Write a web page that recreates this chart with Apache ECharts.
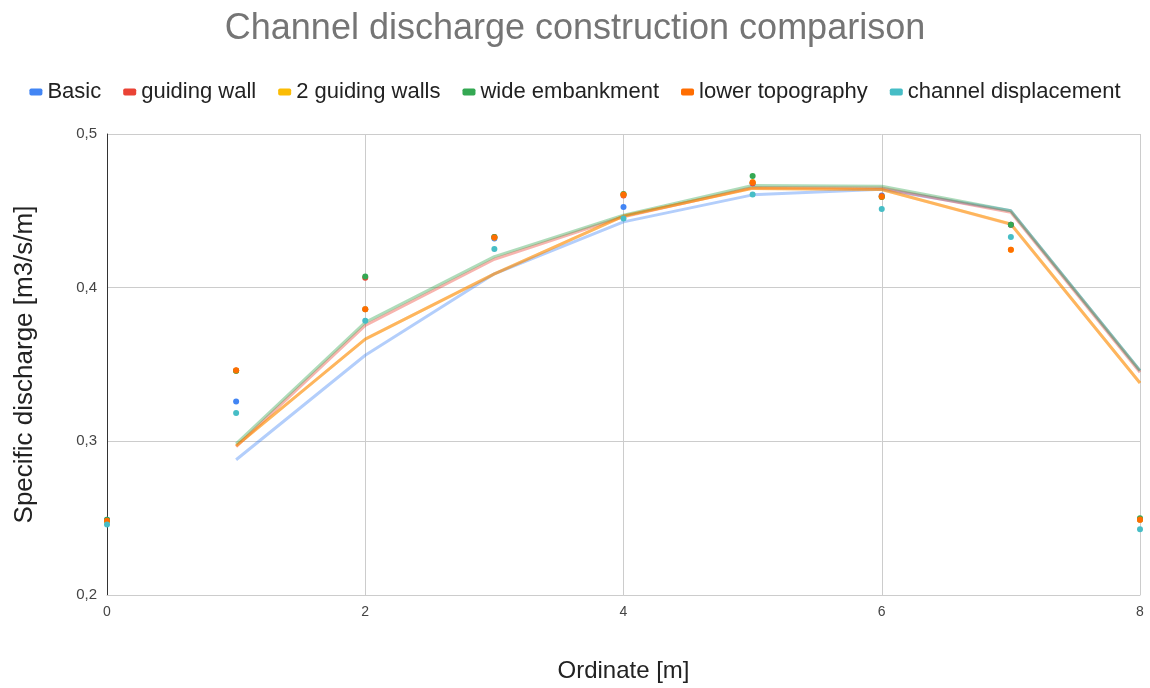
<!DOCTYPE html>
<html>
<head>
<meta charset="utf-8">
<script src="https://cdn.jsdelivr.net/npm/echarts@6/dist/echarts.min.js"></script>
<style>html,body{margin:0;padding:0;background:#fff}#c{width:1150px;height:688px}</style>
</head>
<body>
<div id="c"></div>
<script>
const xs = [0, 1, 2, 3, 4, 5, 6, 7, 8];
const seriesNames = ['Basic', 'guiding wall', '2 guiding walls', 'wide embankment', 'lower topography', 'channel displacement'];
const colors = ['#4285F4', '#EA4335', '#FBBC04', '#34A853', '#FF6D01', '#46BDC6'];

const basic       = [0.249, 0.326, 0.386, 0.432, 0.4525, 0.468, 0.460, 0.441, 0.249];
const guidingWall = [0.248, 0.346, 0.4065, 0.433, 0.460, 0.468, 0.4595, 0.441, 0.249];
const twoWalls    = [0.248, 0.346, 0.386, 0.4327, 0.4606, 0.4686, 0.4592, 0.4247, 0.249];
const embankment  = [0.249, 0.346, 0.4073, 0.433, 0.461, 0.4727, 0.459, 0.4409, 0.250];
const lowerTopo   = [0.2484, 0.3463, 0.386, 0.4327, 0.4606, 0.4686, 0.4592, 0.4247, 0.2492];
const channel     = [0.2458, 0.3185, 0.3785, 0.4252, 0.445, 0.4606, 0.4512, 0.4329, 0.2428];

// trendlines as drawn (x = 1..8)
const trendXs        = [1, 2, 3, 4, 5, 6, 7, 8];
const basicTrend     = [0.288, 0.356, 0.409, 0.4428, 0.4604, 0.464, 0.450, 0.346];
const wallTrend      = [0.2965, 0.3755, 0.4185, 0.4462, 0.4652, 0.4648, 0.449, 0.345];
const twoWallsTrend  = [0.297, 0.3665, 0.409, 0.4466, 0.4646, 0.4639, 0.4415, 0.338];
const embankTrend    = [0.2983, 0.3774, 0.4202, 0.4471, 0.4665, 0.466, 0.450, 0.346];
const lowerTrend     = [0.297, 0.3665, 0.409, 0.4466, 0.4646, 0.4639, 0.4413, 0.338];

const pointData = [basic, guidingWall, twoWalls, embankment, lowerTopo, channel];
const trendData = [basicTrend, wallTrend, twoWallsTrend, embankTrend, lowerTrend, null];

const FONT = 'Arial, "Liberation Sans", sans-serif';
const series = [];
trendData.forEach((t, i) => {
  if (!t) return;
  series.push({
    name: seriesNames[i] + ' trend',
    type: 'line',
    data: trendXs.map((x, k) => [x, t[k]]),
    showSymbol: false,
    silent: true,
    z: 1,
    lineStyle: { color: colors[i], width: 3, opacity: 0.4 },
    itemStyle: { color: colors[i] },
    animation: false
  });
});
pointData.forEach((d, i) => {
  series.push({
    name: seriesNames[i],
    type: 'scatter',
    data: xs.map((x, k) => [x, d[k]]),
    symbolSize: 6,
    z: 3,
    itemStyle: { color: colors[i], opacity: 1 },
    animation: false
  });
});

const chart = echarts.init(document.getElementById('c'));
chart.setOption({
  animation: false,
  title: {
    text: 'Channel discharge construction comparison',
    left: 'center',
    top: 6,
    textStyle: { fontFamily: FONT, fontSize: 36, fontWeight: 'normal', color: '#757575' }
  },
  legend: {
    data: seriesNames,
    top: 76,
    left: 'center',
    icon: 'roundRect',
    itemWidth: 13,
    itemHeight: 7,
    itemGap: 22,
    textStyle: { fontFamily: FONT, fontSize: 22, color: '#222' }
  },
  grid: { left: 107, right: 10, top: 134, bottom: 89 },
  xAxis: {
    type: 'value',
    min: 0, max: 8, interval: 2,
    name: 'Ordinate [m]',
    nameLocation: 'middle',
    nameGap: 64,
    nameTextStyle: { fontFamily: FONT, fontSize: 24, color: '#222' },
    axisLine: { show: true, lineStyle: { color: '#ccc' } },
    axisTick: { show: false },
    axisLabel: { fontFamily: FONT, fontSize: 14, color: '#444', margin: 10 },
    splitLine: { show: true, lineStyle: { color: '#ccc', width: 1 } }
  },
  yAxis: {
    type: 'value',
    min: 0.2, max: 0.5, interval: 0.1,
    name: 'Specific discharge [m3/s/m]',
    nameLocation: 'middle',
    nameGap: 69,
    nameTextStyle: { fontFamily: FONT, fontSize: 26, color: '#222' },
    axisLine: { show: true, lineStyle: { color: '#333' } },
    axisTick: { show: false },
    axisLabel: {
      fontFamily: FONT, fontSize: 15, color: '#444', margin: 10,
      formatter: v => v.toFixed(1).replace('.', ',')
    },
    splitLine: { show: true, lineStyle: { color: '#ccc', width: 1 } }
  },
  series: series
});
</script>
</body>
</html>
